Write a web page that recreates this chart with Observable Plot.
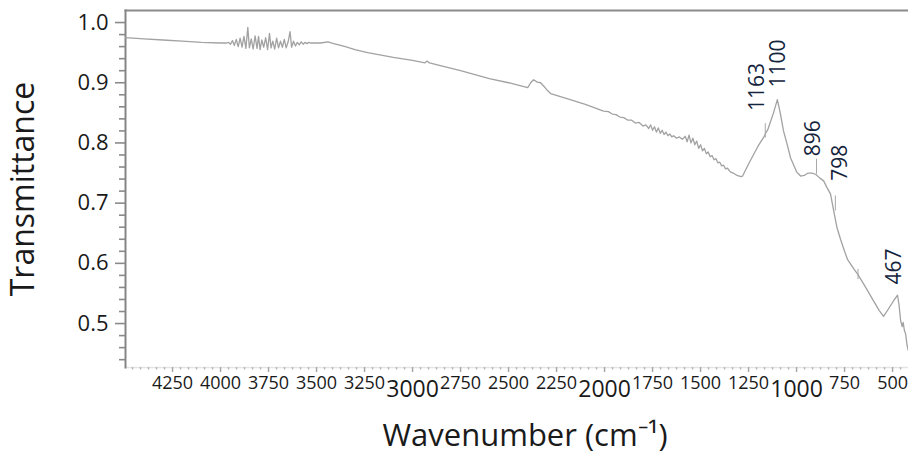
<!DOCTYPE html>
<html><head><meta charset="utf-8">
<script src="https://cdn.jsdelivr.net/npm/d3@7"></script>
<script src="https://cdn.jsdelivr.net/npm/@observablehq/plot@0.6"></script>
<style>body{margin:0;background:#fff;}</style>
</head><body><div id="chart"></div>
<script>
// FTIR spectrum
const wavenumber = [
  4495, 4400, 4300, 4200, 4100, 4000, 3970,
  3958, 3948, 3938, 3928, 3918, 3908, 3898, 3888, 3878, 3868, 3858, 3850, 3840, 3830,
  3820, 3810, 3802, 3794, 3785, 3775, 3765, 3755, 3745, 3737, 3728, 3718, 3708, 3698,
  3688, 3678, 3668, 3658, 3648, 3638, 3630, 3620, 3610, 3600, 3590, 3580, 3570, 3560,
  3550, 3540, 3530,
  3480, 3440, 3420, 3350, 3300, 3234, 3100, 3000, 2935, 2925, 2912, 2850, 2750, 2600,
  2500, 2400, 2385, 2370, 2350, 2333, 2310, 2297, 2281, 2200, 2100, 2005,
  1980, 1960, 1940, 1920, 1900, 1880, 1860, 1840, 1820, 1800, 1785, 1770, 1760, 1750,
  1740, 1730, 1720, 1710, 1700, 1690, 1680, 1670, 1660, 1650, 1640, 1625, 1610, 1595,
  1580, 1570, 1560, 1550, 1540, 1530, 1520, 1510, 1500, 1490, 1480, 1470, 1460, 1450,
  1440, 1430, 1420, 1410, 1400, 1390, 1380, 1370, 1360, 1345, 1330, 1310, 1290, 1281,
  1250, 1200, 1170, 1163, 1150, 1120, 1100, 1085, 1068, 1047, 1031, 1000, 979, 960,
  940, 920, 901, 880, 859, 840, 823, 807, 790, 771, 750, 734, 700, 682, 640, 600,
  570, 547, 520, 490, 474, 466, 458, 450, 445, 438, 432, 425, 418
];
const transmittance = [
  0.975, 0.973, 0.971, 0.969, 0.967, 0.966, 0.966,
  0.967, 0.964, 0.970, 0.962, 0.972, 0.960, 0.974, 0.959, 0.977, 0.957, 0.992, 0.958, 0.973, 0.956,
  0.978, 0.957, 0.977, 0.955, 0.971, 0.959, 0.975, 0.955, 0.982, 0.958, 0.969, 0.956, 0.974, 0.958,
  0.969, 0.959, 0.972, 0.958, 0.968, 0.985, 0.959, 0.969, 0.961, 0.967, 0.963, 0.968, 0.964, 0.967,
  0.965, 0.967, 0.966,
  0.966, 0.968, 0.966, 0.960, 0.955, 0.950, 0.942, 0.937, 0.933, 0.936, 0.933, 0.928, 0.920, 0.907,
  0.900, 0.892, 0.900, 0.905, 0.901, 0.900, 0.892, 0.887, 0.882, 0.874, 0.864, 0.853,
  0.852, 0.848, 0.847, 0.843, 0.842, 0.838, 0.838, 0.833, 0.834, 0.828, 0.830, 0.824, 0.830, 0.821,
  0.827, 0.818, 0.825, 0.816, 0.821, 0.814, 0.818, 0.812, 0.815, 0.810, 0.812, 0.808, 0.810, 0.806,
  0.811, 0.802, 0.813, 0.800, 0.808, 0.797, 0.803, 0.791, 0.797, 0.787, 0.791, 0.782, 0.785, 0.777,
  0.779, 0.772, 0.774, 0.767, 0.768, 0.762, 0.763, 0.757, 0.758, 0.752, 0.750, 0.746, 0.744, 0.745,
  0.765, 0.795, 0.810, 0.815, 0.822, 0.850, 0.872, 0.850, 0.820, 0.795, 0.775, 0.752, 0.745, 0.746,
  0.750, 0.750, 0.748, 0.742, 0.737, 0.725, 0.715, 0.688, 0.660, 0.640, 0.620, 0.606, 0.590, 0.582, 0.560, 0.538,
  0.522, 0.512, 0.525, 0.540, 0.547, 0.530, 0.505, 0.495, 0.502, 0.488, 0.483, 0.465, 0.455
];

// peak annotations
const peakLabels = ["1163", "1100", "896", "798", "467"];
const peakWave = [1163, 1100, 896, 798, 467];
const peakLabelBase = [0.853, 0.892, 0.778, 0.737, 0.565];
// small marker ticks above the curve
const markWave = [1163, 896, 798, 680];
const markTop = [0.832, 0.773, 0.712, 0.590];
const markBottom = [0.808, 0.748, 0.687, 0.573];

// axis ticks
const yTicks = [0.5, 0.6, 0.7, 0.8, 0.9, 1.0];
const xTicksSmall = [4250, 4000, 3750, 3500, 3250, 2750, 2500, 2250, 1750, 1500, 1250, 750, 500];
const xTicksLarge = [3000, 2000, 1000];

const spectrum = wavenumber.map((w, i) => ({w, t: transmittance[i]}));
const marks = markWave.map((w, i) => ({w, y1: markBottom[i], y2: markTop[i]}));
const xMajor = [...xTicksSmall, ...xTicksLarge];
const xMinor = d3.range(-2, 100).map(i => 500 + i * 250 / 6).filter(v => v > 417 && v < 4495 && !xMajor.some(m => Math.abs(m - v) < 1));
const yMinor = d3.range(22, 51).map(i => i / 50).filter(v => !yTicks.some(m => Math.abs(m - v) < 1e-6));
const labelDx = [-8, 1, -3, 5, -5];
const tickFont = "'Open Sans', sans-serif";

const chart = Plot.plot({
  width: 908,
  height: 462,
  marginLeft: 125,
  marginRight: 0,
  marginTop: 10,
  marginBottom: 95,
  style: {background: "#fff", fontFamily: tickFont, color: "#1a1a1a"},
  x: {domain: [4495, 417]},
  y: {domain: [0.427, 1.02]},
  marks: [
    Plot.frame({anchor: "bottom", stroke: "#e4e4e4", strokeWidth: 1.5}),
    Plot.frame({anchor: "top", stroke: "#8a8a8a", strokeWidth: 2}),
    Plot.frame({anchor: "left", stroke: "#858585", strokeWidth: 2}),
    // y axis
    Plot.axisY({ticks: yTicks, tickSize: 10, tickPadding: 7, tickFormat: d3.format(".1f"),
      fontSize: 22, stroke: "#8a8a8a", strokeWidth: 1.6, label: null, fill: "#1a1a1a"}),
    Plot.axisY({ticks: yMinor, tickSize: 6, text: null, stroke: "#8a8a8a", strokeWidth: 1.6, label: null}),
    // x axis
    Plot.axisX({ticks: xMajor, tickSize: 5, text: null, stroke: "#a8a8a8", strokeWidth: 1.5, label: null}),
    Plot.axisX({ticks: xMinor, tickSize: 2.5, text: null, stroke: "#b8b8b8", strokeWidth: 1.5, label: null}),
    Plot.axisX({ticks: xTicksSmall, tickSize: 0, tickPadding: 9, fontSize: 18, tickFormat: d3.format("d"), label: null, fill: "#1a1a1a"}),
    Plot.axisX({ticks: xTicksLarge, tickSize: 0, tickPadding: 13, fontSize: 23, tickFormat: d3.format("d"), label: null, fill: "#1a1a1a"}),
    // spectrum
    Plot.line(spectrum, {x: "w", y: "t", stroke: "#a2a2a2", strokeWidth: 1.3, clip: true}),
    Plot.ruleX(marks, {x: "w", y1: "y1", y2: "y2", stroke: "#a8a8a8", strokeWidth: 1}),
    ...peakLabels.map((lab, i) => Plot.text([lab], {
      x: [peakWave[i]], y: [peakLabelBase[i]], text: d => d, rotate: -90,
      textAnchor: "start", dx: labelDx[i], fontSize: 21, fill: "#14243c"
    })),
    // axis titles
    Plot.text(["Transmittance"], {frameAnchor: "left", text: d => d, rotate: -90, dx: -102,
      textAnchor: "middle", fontSize: 32, fill: "#1a1a1a"}),
    Plot.text(["Wavenumber (cm⁻¹)"], {frameAnchor: "bottom", text: d => d, dy: 78, dx: 8,
      textAnchor: "middle", fontSize: 31, fill: "#1a1a1a"})
  ]
});
document.getElementById("chart").appendChild(chart);
</script>
</body></html>
